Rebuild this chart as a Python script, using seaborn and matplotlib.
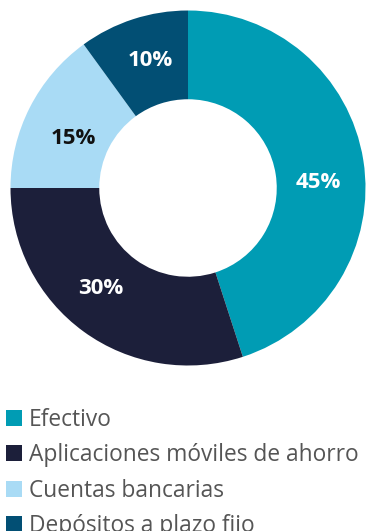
import matplotlib
matplotlib.use("Agg")
import matplotlib.pyplot as plt
from matplotlib.lines import Line2D
import seaborn as sns

categories = ["Efectivo", "Aplicaciones móviles de ahorro", "Cuentas bancarias", "Depósitos a plazo fijo"]
shares = [45, 30, 15, 10]
colors = ["#009CB4", "#1C1F3A", "#A9DBF5", "#024F74"]
label_colors = ["white", "white", "#111111", "white"]
# small per-label offsets (pixels, x right / y up) applied to the percentage labels
label_nudge_px = [(-1.5, -15.0), (-9.3, 7.7), (3.6, -11.4), (3.0, 0.4)]

sns.set_theme(style="white")
plt.rcParams["font.family"] = ["Open Sans", "DejaVu Sans"]

W, H = 366, 531
fig = plt.figure(figsize=(W / 100, H / 100), dpi=100)

cx, cy, r = 188, 188, 177.5
ax = fig.add_axes([(cx - r) / W, (H - cy - r) / H, 2 * r / W, 2 * r / H])

wedges, texts, autotexts = ax.pie(
    shares,
    colors=colors,
    startangle=90,
    counterclock=False,
    radius=1.0,
    wedgeprops=dict(width=0.5, linewidth=0),
    autopct=lambda p: f"{p:.0f}%",
    pctdistance=0.75,
    textprops=dict(fontsize=16, fontweight="bold"),
)
for t, c, (dx, dy) in zip(autotexts, label_colors, label_nudge_px):
    t.set_color(c)
    x, y = t.get_position()
    t.set_position((x + dx / r, y + dy / r))
ax.set_xlim(-1, 1)
ax.set_ylim(-1, 1)
ax.set_aspect("equal")
ax.axis("off")

handles = [Line2D([], [], linestyle="none", marker="s", markersize=11,
                  markerfacecolor=c, markeredgewidth=0) for c in colors]
leg = fig.legend(
    handles, categories,
    loc="upper left",
    bbox_to_anchor=(6.5 / W, 1 - 408 / H),
    frameon=False,
    fontsize=16.4,
    handlelength=0.7,
    handletextpad=0.285,
    labelspacing=0.5,
    borderpad=0.0,
    borderaxespad=0.0,
)
for t in leg.get_texts():
    t.set_color("#555555")

fig.savefig("out.png", dpi=100)
